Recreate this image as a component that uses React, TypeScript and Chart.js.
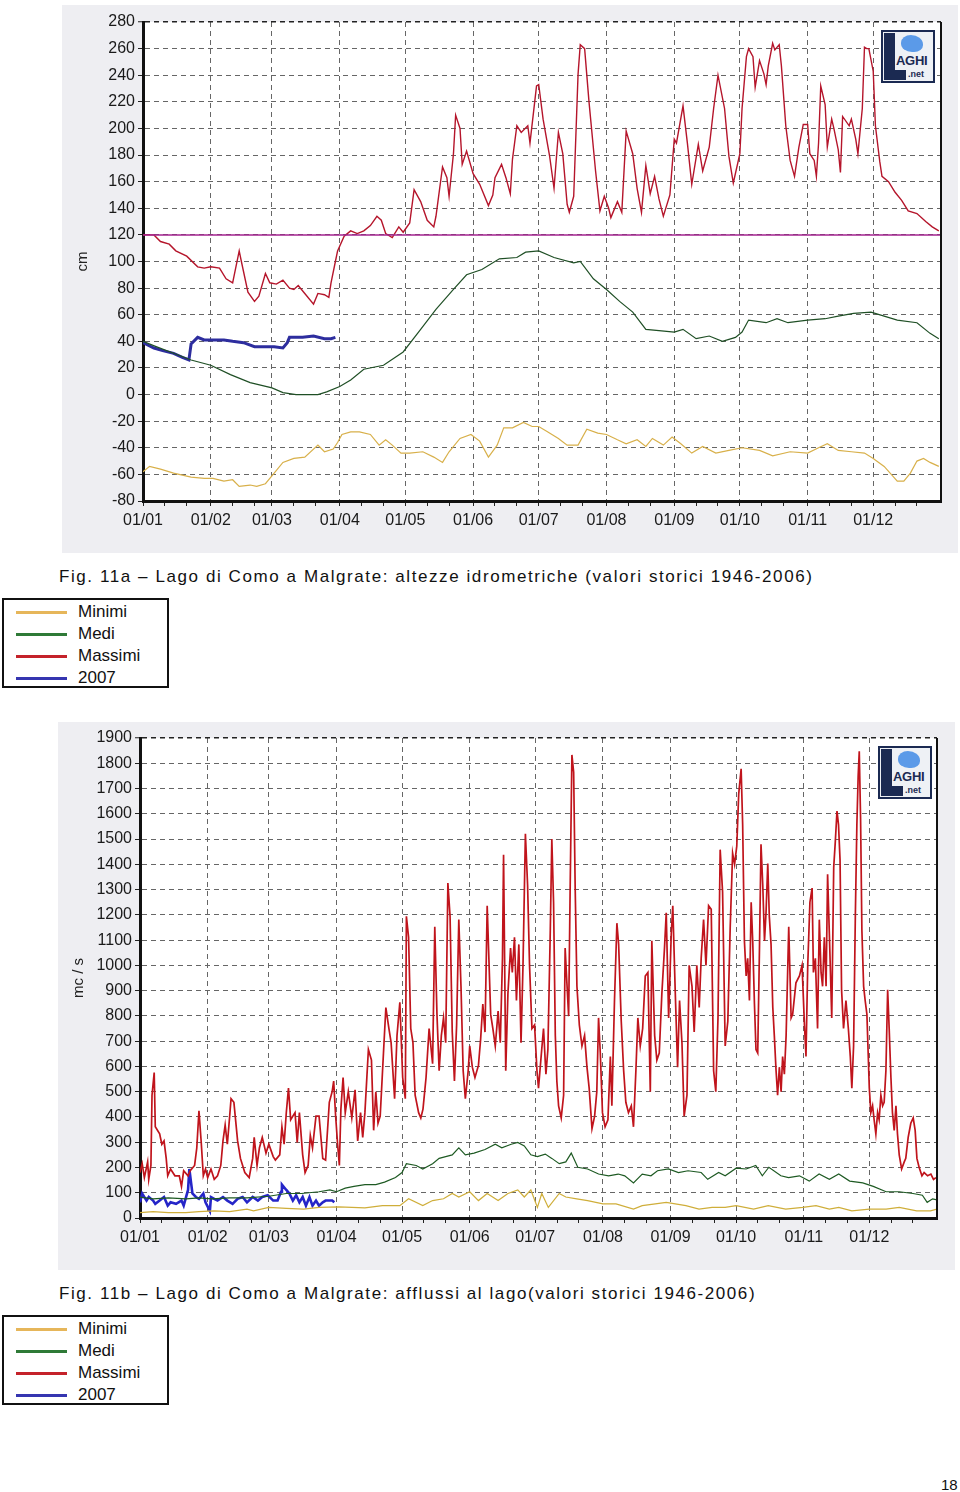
import React, { useEffect, useRef } from "react";
import { Chart, registerables } from "chart.js";

Chart.register(...registerables);

type Pt = [number, number];

// ---------- shared axis data ----------
const monthStartDays = [0, 31, 59, 90, 120, 151, 181, 212, 243, 273, 304, 334];
const monthLabels = ["01/01", "01/02", "01/03", "01/04", "01/05", "01/06", "01/07", "01/08", "01/09", "01/10", "01/11", "01/12"];
const minorTickOffsets = [10, 20];
const yearLength = 365;

const seriesNames = ["Minimi", "Medi", "Massimi", "2007"];
const legendColors = ["#e6b65a", "#2f7a37", "#c4222a", "#3535b0"];

// ---------- Fig. 11a : livelli (cm) ----------
const levelMin = -80;
const levelMax = 280;
const levelStep = 20;
const levelThreshold = 120;

const levelMinimi: Pt[] = [[0,-58],[3,-54],[8,-56],[14,-59],[22,-62],[28,-63],[32,-63],[37,-65],[41,-64],[44,-69],[49,-68],[52,-69],[56,-67],[60,-59],[64,-51],[69,-48],[74,-47],[80,-38],[83,-43],[87,-41],[89,-36],[91,-30],[95,-28],[99,-28],[104,-30],[108,-38],[111,-34],[114,-38],[118,-44],[122,-44],[128,-43],[133,-47],[137,-51],[140,-43],[145,-33],[150,-30],[154,-35],[158,-47],[162,-38],[165,-25],[169,-25],[174,-21],[178,-24],[181,-24],[185,-28],[190,-33],[194,-38],[199,-38],[203,-26],[208,-29],[212,-30],[217,-34],[221,-37],[226,-34],[230,-39],[233,-33],[238,-38],[242,-32],[246,-37],[251,-44],[256,-39],[262,-44],[268,-42],[274,-40],[282,-42],[288,-46],[296,-43],[304,-44],[309,-40],[313,-37],[318,-42],[324,-43],[330,-44],[334,-48],[339,-54],[345,-65],[348,-65],[351,-59],[354,-50],[357,-48],[360,-51],[364,-54]];

const levelMedi: Pt[] = [[0,40],[6,36],[14,31],[22,26],[31,22],[40,15],[49,9],[59,5],[64,1.5],[70,0],[80,0],[84,2],[90,6],[95,11],[101,19],[110,22],[119,32],[127,49],[134,64],[142,79],[148,90],[155,94],[163,102],[171,103],[175,107],[181,108],[188,103],[197,99],[200,100],[206,87],[212,79],[218,70],[224,62],[230,49],[236,48],[243,47],[247,49],[253,42],[259,44],[265,40],[271,43],[274,47],[277,56],[285,54],[290,57],[295,54],[304,56],[312,57],[318,59],[325,61],[333,62],[339,59],[345,56],[354,54],[360,46],[364,42]];

const levelMassimi: Pt[] = [[0,120],[5,120],[8,115],[12,113],[15,108],[20,104],[25,96],[28,95],[31,96],[35,95],[38,87],[41,84],[44,108],[45,100],[48,77],[51,70],[53,74],[56,91],[58,84],[61,83],[64,86],[67,80],[69,79],[71,82],[74,76],[78,68],[80,76],[83,75],[85,73],[86,84],[88,100],[89,108],[92,119],[95,123],[98,121],[101,123],[104,127],[107,134],[109,131],[111,121],[114,118],[117,126],[119,122],[122,129],[124,154],[127,145],[130,131],[133,126],[134,134],[137,171],[139,163],[140,149],[142,181],[143,210],[145,200],[146,173],[148,183],[151,166],[154,158],[158,142],[160,150],[161,163],[164,173],[166,163],[168,151],[169,177],[171,202],[173,197],[176,202],[177,189],[180,232],[181,233],[183,207],[186,179],[188,155],[190,197],[192,181],[194,143],[195,137],[197,149],[199,241],[200,263],[202,260],[204,220],[207,168],[209,138],[211,149],[213,140],[214,133],[217,145],[219,137],[221,198],[224,181],[226,155],[228,137],[230,172],[232,151],[234,164],[236,147],[238,134],[241,150],[243,192],[244,189],[247,217],[249,189],[251,158],[254,188],[256,168],[259,186],[261,215],[263,240],[266,215],[268,179],[270,159],[273,181],[274,215],[276,254],[277,260],[279,254],[280,231],[282,251],[284,241],[285,233],[286,247],[288,264],[289,259],[291,263],[292,247],[294,202],[296,176],[298,164],[300,186],[302,203],[304,203],[305,181],[307,176],[308,164],[309,189],[310,232],[312,218],[313,186],[315,207],[316,200],[318,184],[319,167],[320,209],[323,202],[324,207],[326,192],[327,181],[329,215],[330,261],[331,260],[332,260],[334,243],[335,202],[337,175],[338,164],[341,160],[344,152],[347,146],[350,138],[354,136],[358,130],[361,126],[364,123]];

const level2007: Pt[] = [[0,39],[5,35],[9,33],[14,31],[18,28],[21,26],[22,38],[25,43],[28,41],[32,41],[37,41],[41,40],[46,39],[51,36],[55,36],[60,36],[64,35],[66,39],[67,43],[73,43],[78,44],[83,42],[86,42],[88,43]];

// ---------- Fig. 11b : afflussi (mc/s) ----------
const flowMin = 0;
const flowMax = 1900;
const flowStep = 100;

const flowMinimi: Pt[] = [[0,21],[6,25],[13,21],[21,21],[27,25],[34,28],[41,25],[49,35],[52,28],[59,42],[67,38],[75,35],[82,42],[91,44],[97,42],[103,40],[111,49],[119,49],[123,76],[129.5,49],[134,69],[139,76],[143,97],[146,83],[151,104],[155,69],[159,97],[164,69],[168.5,97],[173,111],[176,83],[179,111],[182,42],[184,97],[187,42],[192,97],[195,83],[200,76],[205,69],[212,56],[218,56],[226,35],[230,49],[236,56],[241,62],[250,49],[256,35],[262,42],[268,42],[273,49],[281,35],[287.7,49],[295.7,35],[303.5,42],[309.6,49],[315.7,35],[320,42],[326,28],[334,35],[341.7,35],[347.7,42],[355.7,28],[362,28],[365,35]];

const flowMedi: Pt[] = [[0,83],[6,76],[13,80],[21,76],[27,80],[33,76],[41,80],[49,80],[59,86],[67,97],[74,97],[82,104],[87,111],[90,104],[94,118],[98,125],[103,132],[108,132],[112,142],[117,160],[120,180],[122,215],[126.5,208],[129.5,194],[134,215],[137,236],[140,243],[143,250],[146,278],[149,250],[153,257],[158,271],[162.7,292],[165.7,278],[170,292],[173,299],[176,285],[179,250],[182,243],[185.6,253],[188.6,236],[192,215],[195,222],[197.5,257],[200.5,201],[205,194],[210,174],[214.6,167],[219,174],[222,167],[226,139],[230,174],[234,167],[237,187],[242,194],[246.6,180],[251,187],[257,180],[260,153],[265,180],[268,167],[273,197],[277.6,194],[282,208],[285,167],[288,201],[293.5,167],[297,160],[302,167],[306.5,146],[311,174],[315.7,153],[320,174],[325,146],[331,139],[335.8,125],[341.7,104],[347.7,104],[354,97],[358.3,90],[360.5,62],[363,76],[365,72]];

const flowMassimi: Pt[] = [[0,180],[1,215],[2,160],[3.5,222],[4,153],[5,208],[5.5,486],[6.5,576],[7,361],[9,333],[10,292],[11,305],[12,236],[12.7,167],[14,194],[16,167],[18,167],[19,125],[20,187],[22,167],[23,187],[25,208],[26,277],[27,424],[28,305],[29,167],[30,194],[31,160],[32.5,194],[34,153],[35.5,167],[37,208],[38,305],[39,368],[40,292],[41,396],[41.7,472],[43,458],[44.7,305],[46,236],[48,180],[50,160],[51.6,236],[52.3,319],[53.6,208],[54.7,278],[56,319],[57.7,257],[59,292],[61,243],[62,229],[64,250],[65,361],[66,292],[67,417],[68,514],[69,389],[71,417],[72,299],[73,417],[74.5,250],[75.6,180],[77,208],[78,326],[79,278],[80.6,403],[82,403],[83.7,236],[85,229],[86.7,458],[88,500],[88.7,542],[89.6,403],[90.5,292],[91.3,208],[92,431],[93,556],[94,417],[95.4,500],[97,396],[98.5,507],[99.7,305],[101,417],[102,319],[103,417],[104.6,667],[106,625],[107,347],[108,500],[109,375],[110,403],[111.5,653],[112.6,833],[114,750],[115,694],[116.6,472],[117.7,722],[119,854],[120.3,556],[121.5,472],[122,1194],[123,1111],[124,750],[125,694],[126,486],[127.6,417],[128.6,396],[129.6,431],[131,556],[132.4,750],[134,611],[135,1153],[136,806],[137,583],[138,722],[139,792],[140,694],[141,1326],[142,1194],[143,736],[144,542],[145,764],[146,1181],[147,917],[148,583],[149,472],[150.3,583],[151,681],[152.2,597],[153.4,556],[155,604],[156,708],[157,847],[158,736],[159,1236],[160.6,806],[161.6,750],[162.7,681],[164,819],[165,694],[166,1028],[166.5,1438],[167.5,583],[168.5,889],[169.7,1069],[170.5,972],[171.5,1111],[172.4,861],[173.5,1083],[174.5,694],[175.4,1000],[176.5,1521],[177.5,1319],[178.4,1000],[179.5,750],[180.7,764],[181.8,583],[182.5,514],[183.7,639],[184.8,750],[185.9,569],[186.8,667],[187.9,1139],[188.6,1500],[189.4,1250],[190.2,722],[190.9,542],[191.7,444],[192.9,396],[194,486],[194.7,1069],[195.5,931],[196.3,799],[197,1306],[197.8,1833],[198.6,1764],[199.3,1306],[200.1,917],[201.2,764],[202.4,681],[203.6,722],[204.7,597],[205.7,514],[207,354],[208.2,403],[209.2,500],[210,792],[210.8,653],[211.8,417],[213,361],[214.3,389],[215.4,639],[216.1,444],[217.3,861],[218.4,1167],[219.2,1083],[220.4,778],[221.5,583],[222.5,458],[223.7,417],[225,444],[226,361],[227.1,583],[228,792],[229.1,681],[230.2,750],[231.4,958],[232.6,972],[233.7,500],[234.4,1097],[235.7,722],[236.7,625],[237.8,653],[239,889],[240.2,1069],[241,1208],[242.1,792],[243.3,1125],[244,1236],[245.1,903],[246.2,597],[247.1,861],[248.2,694],[249.2,403],[250.5,486],[251.5,1000],[252.8,917],[253.8,736],[255,1000],[256.1,833],[257,1028],[258.1,1181],[259.2,1000],[260.4,1236],[261.6,1222],[262.7,583],[263.7,500],[264.7,792],[265.7,1458],[266.8,1292],[268,681],[269.2,778],[270.3,1153],[271.4,1444],[272.3,1400],[273.3,1472],[274.2,1680],[275.3,1778],[276,1556],[276.8,1097],[277.6,958],[278.3,1028],[279.1,861],[279.9,1250],[280.6,1097],[281.4,847],[282.1,667],[282.9,653],[283.7,1069],[284.4,1479],[285.2,1319],[286,1097],[286.7,1208],[287.5,1403],[288.2,1194],[289,1083],[289.8,833],[290.5,722],[291.3,583],[292,486],[292.8,597],[293.6,500],[294.3,639],[295.1,569],[295.9,722],[297.1,1153],[298.2,792],[298.9,806],[300.4,931],[302,958],[303.2,1000],[304.3,764],[305,639],[305.8,1000],[306.8,1250],[307.8,1306],[308.4,972],[309.3,1028],[310.3,750],[311.1,1181],[311.9,972],[312.6,917],[313.4,1111],[314.2,917],[314.9,1361],[315.7,1125],[316.8,792],[317.7,1389],[318.4,1486],[319.2,1611],[319.9,1556],[320.6,1417],[321.3,903],[322.2,750],[323.3,861],[324.4,750],[325.3,639],[326,514],[326.8,681],[327.6,1194],[328.3,1556],[328.9,1750],[329.4,1847],[330,1583],[330.6,1139],[331.4,917],[332.1,861],[332.9,806],[334,514],[334.7,417],[335.5,444],[336.3,382],[337,333],[337.8,417],[338.5,389],[339.3,486],[340.1,444],[340.8,458],[341.6,583],[342.4,903],[343.1,750],[343.9,556],[344.6,417],[345.4,347],[346.2,444],[346.9,333],[347.7,250],[348.8,194],[350,222],[350.7,236],[351.8,319],[353,375],[354.1,396],[355,347],[355.8,236],[356.8,201],[358.1,167],[359.1,180],[360.7,167],[362.2,174],[363.4,153],[364.5,160]];

const flow2007: Pt[] = [[0,62],[1,97],[3,69],[4,83],[6,69],[7,56],[9,69],[11,83],[12.7,49],[14,62],[16.5,56],[19,69],[20,49],[22,111],[22.6,194],[23.4,139],[24,97],[25.6,83],[27,76],[29,97],[30,62],[32,28],[32.5,83],[34,76],[35.5,69],[38,83],[40,69],[42.4,56],[44.7,76],[47,83],[49,62],[51.6,83],[54,69],[56,83],[58.5,90],[61,69],[63,69],[64.6,104],[65,132],[67,111],[68.4,97],[70,69],[71.5,90],[73,62],[74.5,83],[76,49],[77.6,83],[79,49],[80.6,69],[82,49],[83.7,62],[85,69],[88,69],[89,62]];

// ---------- helpers ----------
const FONT = "'Liberation Sans', Arial, sans-serif";

function buildXTicks(): number[] {
  const t: number[] = [];
  monthStartDays.forEach((d, i) => {
    t.push(d);
    const next = i + 1 < monthStartDays.length ? monthStartDays[i + 1] : yearLength;
    minorTickOffsets.forEach((o) => {
      if (d + o < next) t.push(d + o);
    });
  });
  return t;
}

type DS = { label: string; points: Pt[]; color: string; width: number };

type ChartProps = {
  left: number;
  top: number;
  width: number;
  height: number;
  axisWidth: number;
  padTop: number;
  padRight: number;
  yMin: number;
  yMax: number;
  yStep: number;
  yTitle: string;
  datasets: DS[];
};

const bgPlugin = {
  id: "pageBg",
  beforeDraw(chart: any) {
    const { ctx, chartArea: a, width, height } = chart;
    ctx.save();
    ctx.fillStyle = "#eeeef2";
    ctx.fillRect(0, 0, width, height);
    ctx.fillStyle = "#ffffff";
    ctx.fillRect(a.left, a.top, a.right - a.left, a.bottom - a.top);
    ctx.restore();
  },
  afterDraw(chart: any) {
    const { ctx, chartArea: a } = chart;
    ctx.save();
    ctx.strokeStyle = "#111";
    ctx.lineWidth = 2;
    ctx.beginPath();
    ctx.moveTo(a.right, a.top);
    ctx.lineTo(a.right, a.bottom);
    ctx.stroke();
    ctx.restore();
  },
};

function SeriesChart(p: ChartProps) {
  const ref = useRef<HTMLCanvasElement | null>(null);
  useEffect(() => {
    if (!ref.current) return;
    const xTicks = buildXTicks();
    const majors = new Set(monthStartDays);
    const labelMap = new Map<number, string>();
    monthStartDays.forEach((d, i) => labelMap.set(d, monthLabels[i]));
    const yTicks: number[] = [];
    for (let v = p.yMin; v <= p.yMax; v += p.yStep) yTicks.push(v);

    const chart = new Chart(ref.current, {
      type: "line",
      data: {
        datasets: p.datasets.map((d) => ({
          label: d.label,
          data: d.points.map(([x, y]) => ({ x, y })),
          borderColor: d.color,
          backgroundColor: d.color,
          borderWidth: d.width,
          pointRadius: 0,
          fill: false,
          tension: 0,
        })),
      },
      options: {
        animation: false,
        responsive: false,
        maintainAspectRatio: false,
        layout: { padding: { left: 0, top: p.padTop, right: p.padRight, bottom: 0 } },
        plugins: { legend: { display: false }, tooltip: { enabled: false }, title: { display: false } },
        scales: {
          x: {
            type: "linear",
            min: 0,
            max: yearLength,
            afterBuildTicks: (s: any) => {
              s.ticks = xTicks.map((v) => ({ value: v }));
            },
            afterFit: (s: any) => {
              s.height = 52;
            },
            ticks: {
              autoSkip: false,
              maxRotation: 0,
              minRotation: 0,
              padding: 5,
              color: "#1a1a1a",
              font: { family: FONT, size: 16 },
              callback: (v: any) => labelMap.get(Number(v)) ?? "",
            },
            grid: {
              color: (c: any) => (c.tick && majors.has(c.tick.value) ? "#666" : "rgba(0,0,0,0)"),
              lineWidth: 1,
              drawTicks: true,
              tickLength: 5,
              tickColor: "#222",
              tickWidth: 1,
            },
            border: { display: true, color: "#111", width: 3, dash: [5, 4] },
          },
          y: {
            type: "linear",
            min: p.yMin,
            max: p.yMax,
            afterBuildTicks: (s: any) => {
              s.ticks = yTicks.map((v) => ({ value: v }));
            },
            afterFit: (s: any) => {
              s.width = p.axisWidth;
            },
            ticks: {
              padding: 3,
              color: "#1a1a1a",
              font: { family: FONT, size: 16 },
              callback: (v: any) => String(v),
            },
            grid: {
              color: (c: any) => (c.tick && c.tick.value === p.yMax ? "#222" : "#666"),
              lineWidth: (c: any) => (c.tick && c.tick.value === p.yMax ? 1.5 : 1),
              drawTicks: true,
              tickLength: 5,
              tickColor: "#222",
              tickWidth: 1,
            },
            border: { display: true, color: "#111", width: 3, dash: [5, 4] },
            title: {
              display: true,
              text: p.yTitle,
              color: "#222",
              font: { family: FONT, size: 15 },
              padding: { top: 12, bottom: 0 },
            },
          },
        },
      },
      plugins: [bgPlugin],
    } as any);
    return () => chart.destroy();
  }, []);
  return (
    <canvas
      ref={ref}
      width={p.width}
      height={p.height}
      style={{ position: "absolute", left: p.left, top: p.top, width: p.width, height: p.height }}
    />
  );
}

function Logo({ left, top }: { left: number; top: number }) {
  const navy = "#1b2a52";
  return (
    <div
      style={{
        position: "absolute",
        left,
        top,
        width: 54,
        height: 53,
        border: `2px solid ${navy}`,
        background: "#eef1f5",
        boxSizing: "border-box",
        overflow: "hidden",
      }}
    >
      <div style={{ position: "absolute", left: 1, top: 1, width: 11, height: 47, background: navy }} />
      <div style={{ position: "absolute", left: 1, top: 38, width: 22, height: 10, background: navy }} />
      <div
        style={{
          position: "absolute",
          left: 18,
          top: 3,
          width: 22,
          height: 17,
          background: "#5b9ae8",
          borderRadius: "45% 55% 40% 50%",
        }}
      />
      <div
        style={{
          position: "absolute",
          left: 13,
          top: 21,
          fontFamily: FONT,
          fontWeight: "bold",
          fontSize: 13,
          lineHeight: "15px",
          color: navy,
          letterSpacing: -0.3,
        }}
      >
        AGHI
      </div>
      <div
        style={{
          position: "absolute",
          left: 25,
          top: 37,
          fontFamily: FONT,
          fontWeight: "bold",
          fontSize: 9,
          lineHeight: "10px",
          color: navy,
        }}
      >
        .net
      </div>
    </div>
  );
}

function LegendBox({ top }: { top: number }) {
  return (
    <div
      style={{
        position: "absolute",
        left: 2,
        top,
        width: 167,
        height: 90,
        border: "2px solid #111",
        boxSizing: "border-box",
        background: "#fff",
      }}
    >
      {seriesNames.map((name, i) => (
        <React.Fragment key={name}>
          <div
            style={{
              position: "absolute",
              left: 12,
              top: 11 + i * 22,
              width: 51,
              height: 2.5,
              background: legendColors[i],
            }}
          />
          <div
            style={{
              position: "absolute",
              left: 74,
              top: 1 + i * 22,
              fontFamily: FONT,
              fontSize: 17,
              lineHeight: "22px",
              color: "#111",
            }}
          >
            {name}
          </div>
        </React.Fragment>
      ))}
    </div>
  );
}

function Caption({ top, text }: { top: number; text: string }) {
  return (
    <div
      style={{
        position: "absolute",
        left: 59,
        top,
        fontFamily: FONT,
        fontSize: 17,
        lineHeight: "20px",
        letterSpacing: 1.58,
        color: "#111",
        whiteSpace: "nowrap",
      }}
    >
      {text}
    </div>
  );
}

export default function App() {
  const levelThresholdLine: Pt[] = [
    [0, levelThreshold],
    [yearLength, levelThreshold],
  ];
  const levelSets: DS[] = [
    { label: "soglia", points: levelThresholdLine, color: "#a3238f", width: 1.5 },
    { label: seriesNames[0], points: levelMinimi, color: "#d8b04a", width: 1.2 },
    { label: seriesNames[1], points: levelMedi, color: "#1f4f25", width: 1.2 },
    { label: seriesNames[2], points: levelMassimi, color: "#b5152b", width: 1.4 },
    { label: seriesNames[3], points: level2007, color: "#2d2d9e", width: 3 },
  ];
  const flowSets: DS[] = [
    { label: seriesNames[0], points: flowMinimi, color: "#cfae3a", width: 1.2 },
    { label: seriesNames[1], points: flowMedi, color: "#1e5a23", width: 1.2 },
    { label: seriesNames[2], points: flowMassimi, color: "#c0141c", width: 1.7 },
    { label: seriesNames[3], points: flow2007, color: "#2525c8", width: 2.6 },
  ];
  return (
    <div style={{ position: "absolute", left: 0, top: 0, width: 960, height: 1492, background: "#fff" }}>
      <SeriesChart
        left={62}
        top={5}
        width={896}
        height={548}
        axisWidth={81}
        padTop={17}
        padRight={17}
        yMin={levelMin}
        yMax={levelMax}
        yStep={levelStep}
        yTitle="cm"
        datasets={levelSets}
      />
      <Logo left={881} top={30} />
      <Caption top={567} text="Fig. 11a – Lago di Como a Malgrate: altezze idrometriche (valori storici 1946-2006)" />
      <LegendBox top={598} />

      <SeriesChart
        left={58}
        top={722}
        width={897}
        height={548}
        axisWidth={82}
        padTop={16}
        padRight={18}
        yMin={flowMin}
        yMax={flowMax}
        yStep={flowStep}
        yTitle="mc / s"
        datasets={flowSets}
      />
      <Logo left={878} top={746} />
      <Caption top={1284} text="Fig. 11b – Lago di Como a Malgrate: afflussi al lago(valori storici 1946-2006)" />
      <LegendBox top={1315} />

      <div
        style={{
          position: "absolute",
          left: 941,
          top: 1476,
          fontFamily: FONT,
          fontSize: 15,
          lineHeight: "18px",
          color: "#111",
        }}
      >
        18
      </div>
    </div>
  );
}
